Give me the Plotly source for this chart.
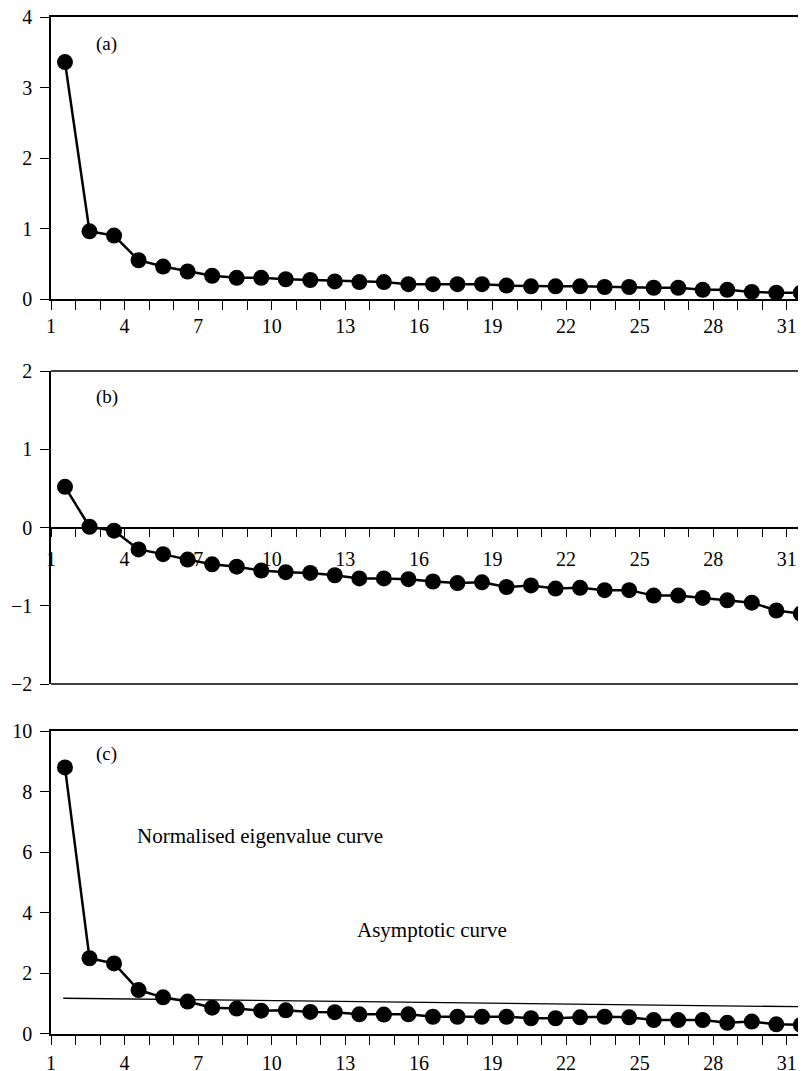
import plotly.graph_objects as go

# ---------------- data ----------------
components = list(range(1, 32))

eig_a = [3.36, 0.96, 0.90, 0.55, 0.46, 0.39, 0.33, 0.30, 0.30, 0.28,
         0.27, 0.25, 0.24, 0.24, 0.21, 0.21, 0.21, 0.21, 0.19, 0.18,
         0.18, 0.18, 0.17, 0.17, 0.16, 0.16, 0.13, 0.13, 0.10, 0.09, 0.09]

eig_b = [0.52, 0.01, -0.04, -0.28, -0.34, -0.41, -0.47, -0.50, -0.55, -0.57,
         -0.58, -0.61, -0.65, -0.65, -0.66, -0.69, -0.71, -0.70, -0.76, -0.74,
         -0.78, -0.77, -0.80, -0.80, -0.87, -0.87, -0.90, -0.93, -0.96, -1.06, -1.10]

eig_c = [8.80, 2.50, 2.33, 1.45, 1.21, 1.07, 0.87, 0.84, 0.77, 0.78,
         0.73, 0.72, 0.65, 0.64, 0.65, 0.57, 0.57, 0.57, 0.57, 0.52,
         0.52, 0.55, 0.57, 0.55, 0.46, 0.46, 0.46, 0.37, 0.41, 0.32, 0.30]

asym_x = [0.93, 31.07]
asym_y = [1.18, 0.90]

tick_labels = [1, 4, 7, 10, 13, 16, 19, 22, 25, 28, 31]
panel_labels = ["(a)", "(b)", "(c)"]

# ---------------- styling ----------------
FONT = "Liberation Serif"
OFF = 0.57            # tick marks sit between the plotted points
XR = [1 - OFF, 31.21]

fig = go.Figure()

mk = dict(size=16, color="black")
ln = dict(color="black", width=2.5)

fig.add_trace(go.Scatter(x=components, y=eig_a, mode="lines+markers", marker=mk, line=ln,
                         xaxis="x", yaxis="y", cliponaxis=False, showlegend=False))
fig.add_trace(go.Scatter(x=components, y=eig_b, mode="lines+markers", marker=mk, line=ln,
                         xaxis="x2", yaxis="y2", cliponaxis=False, showlegend=False))
fig.add_trace(go.Scatter(x=asym_x, y=asym_y, mode="lines", line=dict(color="black", width=1.3),
                         xaxis="x3", yaxis="y3", showlegend=False))
fig.add_trace(go.Scatter(x=components, y=eig_c, mode="lines+markers", marker=mk, line=ln,
                         xaxis="x3", yaxis="y3", cliponaxis=False, showlegend=False))

dom_a = [0.7227, 1.0]
dom_b = [0.3441, 0.6519]
dom_c = [0.0, 0.2979]

def xax(**kw):
    d = dict(range=XR, showgrid=False, zeroline=False, showline=True, linecolor="black",
             linewidth=1.5, ticks="outside", ticklen=9, tickwidth=1.3, tickcolor="black",
             tickmode="array", tickvals=[v - OFF for v in tick_labels],
             ticktext=[str(v) for v in tick_labels],
             minor=dict(tick0=1 - OFF, dtick=1, ticks="outside", ticklen=9,
                        tickwidth=1.3, tickcolor="black"),
             tickfont=dict(family=FONT, size=20, color="black"), ticklabelstandoff=1,
             ticklabeloverflow="allow", automargin=False, fixedrange=True)
    d.update(kw)
    return d

def yax(rng, dtick, dom, **kw):
    d = dict(range=rng, dtick=dtick, domain=dom, showgrid=False, zeroline=False,
             showline=True, linecolor="black", linewidth=1.5, ticks="outside", ticklen=9,
             tickwidth=1.3, tickcolor="black",
             tickfont=dict(family=FONT, size=20, color="black"), ticklabelstandoff=4,
             ticklabeloverflow="allow", automargin=False, fixedrange=True)
    d.update(kw)
    return d

pos_b = (dom_b[0] + dom_b[1]) / 2

fig.update_layout(
    width=806, height=1071,
    margin=dict(l=43, r=8, t=9, b=45, autoexpand=False),
    paper_bgcolor="white", plot_bgcolor="white",
    font=dict(family=FONT, size=20, color="black"),
    xaxis=xax(anchor="y", mirror=True, ticklabelstandoff=-1),
    yaxis=yax([0, 4], 1, dom_a),
    xaxis2=xax(anchor="free", position=pos_b, ticklabelstandoff=5),
    yaxis2=yax([-2, 2], 1, dom_b, anchor="x2"),
    xaxis3=xax(anchor="y3", mirror=True),
    yaxis3=yax([0, 10], 2, dom_c, anchor="x3"),
)

# top and bottom frame lines of panel (b)
for yy in (0, 1):
    fig.add_shape(type="line", xref="x2 domain", yref="y2 domain", x0=0, x1=1, y0=yy, y1=yy,
                  line=dict(color="black", width=1.5))

ann_font = dict(family=FONT, size=19, color="black")
fig.add_annotation(x=2.7, y=3.62, xref="x", yref="y", text=panel_labels[0], showarrow=False, font=ann_font)
fig.add_annotation(x=2.7, y=1.67, xref="x2", yref="y2", text=panel_labels[1], showarrow=False, font=ann_font)
fig.add_annotation(x=2.7, y=9.24, xref="x3", yref="y3", text=panel_labels[2], showarrow=False, font=ann_font)
fig.add_annotation(x=8.95, y=6.53, xref="x3", yref="y3", text="Normalised eigenvalue curve",
                   showarrow=False, font=dict(family=FONT, size=21, color="black"))
fig.add_annotation(x=15.96, y=3.43, xref="x3", yref="y3", text="Asymptotic curve",
                   showarrow=False, font=dict(family=FONT, size=21, color="black"))

fig.write_html("out.html")
